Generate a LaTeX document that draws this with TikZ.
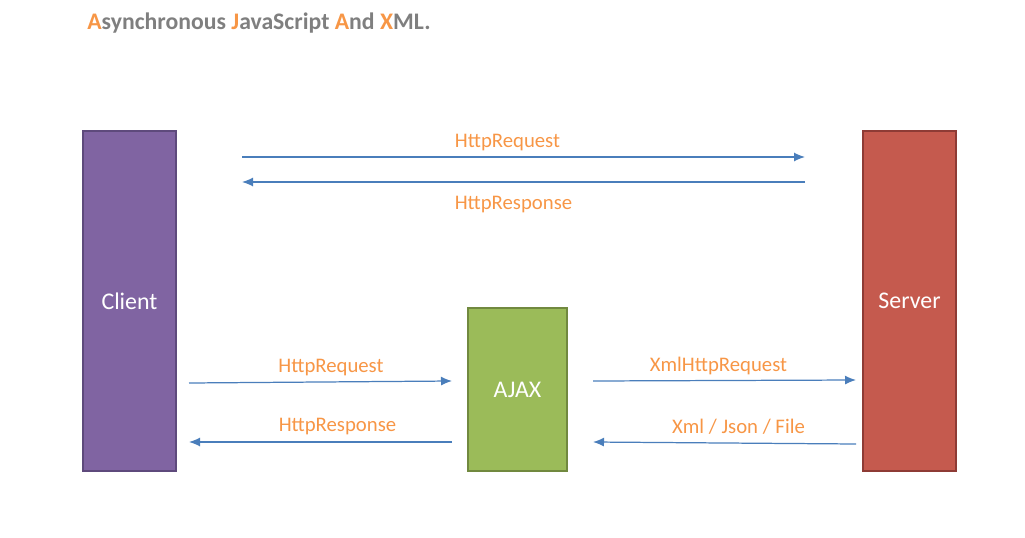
\documentclass[tikz,border=0pt]{standalone}
\usepackage{fontspec}
\setmainfont{Carlito}
\usetikzlibrary{arrows.meta}
\definecolor{clientfill}{HTML}{8064A2}
\definecolor{clientline}{HTML}{5E4A7C}
\definecolor{serverfill}{HTML}{C55A4E}
\definecolor{serverline}{HTML}{8E3B35}
\definecolor{ajaxfill}{HTML}{9BBB59}
\definecolor{ajaxline}{HTML}{71893F}
\definecolor{flowblue}{HTML}{4A7EBB}
\definecolor{labelorange}{HTML}{F79646}
\definecolor{titlegray}{HTML}{7F7F7F}
\tikzset{
	box/.style={draw, line width=1.2pt, text=white, font=\fontsize{13.6}{16}\selectfont, inner sep=0pt},
	flow/.style={flowblue, line width=0.7pt, -{Latex[length=2.2mm,width=1.8mm]}},
	flowlabel/.style={text=labelorange, font=\fontsize{11.8}{14}\selectfont}
}
\newcommand{\initial}[1]{\textcolor{labelorange}{#1}}

\begin{document}
\begin{tikzpicture}
			%%%%% START %%%%%
			\useasboundingbox (0, 0) rectangle (20.5, -10.74);
			
			\node[anchor=west, inner sep=0pt, text=titlegray, font=\bfseries\fontsize{13.5}{16}\selectfont] (title) at (1.74, -0.46)
				{\initial{A}synchronous \initial{J}avaScript \initial{A}nd \initial{X}ML.};
			
			\node[box, fill=clientfill, draw=clientline, minimum width=1.86cm, minimum height=6.8cm] (client) at (2.59, -6.02) {Client};
			\node[box, fill=serverfill, draw=serverline, minimum width=1.86cm, minimum height=6.8cm] (server) at (18.19, -6.02) {Server};
			\node[box, fill=ajaxfill, draw=ajaxline, minimum width=1.98cm, minimum height=3.26cm] (ajax) at (10.35, -7.79) {AJAX};
			
			% direct path
			\coordinate (c1) at (4.84, -3.14);
			\coordinate (s1) at (16.1, -3.14);
			\coordinate (c2) at (4.84, -3.64);
			\coordinate (s2) at (16.1, -3.64);
			\draw[flow] (c1) -- (s1);
			\draw[flow] (s2) -- (c2);
			\node[flowlabel] (req) at (10.15, -2.85) {HttpRequest};
			\node[flowlabel] (resp) at (10.27, -4.1) {HttpResponse};
			
			% client <-> ajax
			\coordinate (c3) at (3.78, -7.66);
			\coordinate (a1) at (9.04, -7.62);
			\coordinate (c4) at (3.78, -8.84);
			\coordinate (a2) at (9.04, -8.84);
			\draw[flow] (c3) -- (a1);
			\draw[flow] (a2) -- (c4);
			\node[flowlabel] (ajaxreq) at (6.62, -7.36) {HttpRequest};
			\node[flowlabel] (ajaxresp) at (6.75, -8.54) {HttpResponse};
			
			% ajax <-> server
			\coordinate (a3) at (11.86, -7.62);
			\coordinate (s3) at (17.12, -7.6);
			\coordinate (a4) at (11.86, -8.84);
			\coordinate (s4) at (17.12, -8.88);
			\draw[flow] (a3) -- (s3);
			\draw[flow] (s4) -- (a4);
			\node[flowlabel] (xhr) at (14.37, -7.32) {XmlHttpRequest};
			\node[flowlabel] (data) at (14.77, -8.54) {Xml / Json / File};
			%%%%% END %%%%%
		\end{tikzpicture}
\end{document}
